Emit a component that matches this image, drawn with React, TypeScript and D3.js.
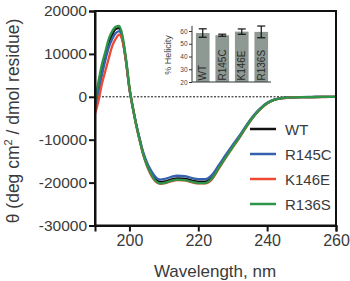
import React, { useRef, useEffect } from "react";
import * as d3 from "d3";

// ---------------------------------------------------------------------------
// DATA
// ---------------------------------------------------------------------------
const wavelengths = [
  190, 191, 192, 193, 194, 195, 196, 197, 198, 199, 200, 201, 202, 203, 204,
  205, 206, 207, 208, 209, 210, 212, 214, 216, 218, 220, 222, 224, 226, 228,
  230, 232, 234, 236, 238, 240, 242, 244, 246, 248, 250, 252, 254, 256, 258,
  260,
];

const wtValues = [
  -2000, 2000, 6000, 9500, 12500, 14500, 15800, 16000, 13500, 8500, 2000,
  -2500, -6500, -10000, -13200, -15500, -17300, -18700, -19500, -19850,
  -19800, -19300, -19000, -19100, -19500, -19800, -19800, -18700, -16300,
  -13900, -11600, -9300, -6800, -4600, -2800, -1500, -700, -350, -200, -120,
  -80, -60, -50, -40, -30, -30,
];

const r145cValues = [
  -2500, 1000, 5000, 8500, 11500, 13500, 14800, 15300, 13200, 8200, 1800,
  -2700, -6500, -9800, -12900, -15100, -16800, -18100, -19000, -19300,
  -19200, -18700, -18400, -18500, -18900, -19200, -19200, -18200, -15900,
  -13500, -11200, -9000, -6600, -4400, -2700, -1400, -650, -320, -180, -100,
  -70, -50, -40, -30, -20, -20,
];

const k146eValues = [
  -4000, -1000, 3000, 6000, 9000, 11800, 13500, 14500, 13000, 8300, 1900,
  -2700, -6800, -10300, -13500, -15900, -17800, -19200, -20000, -20300,
  -20200, -19700, -19400, -19500, -19900, -20200, -20200, -19200, -16700,
  -14200, -11800, -9500, -7000, -4700, -2900, -1550, -750, -380, -220, -130,
  -90, -70, -60, -50, -40, -40,
];

const r136sValues = [
  -1000, 3500, 7500, 10500, 13500, 15300, 16300, 16500, 14200, 9000, 2300,
  -2600, -6700, -10200, -13400, -15800, -17600, -19000, -19900, -20200,
  -20100, -19600, -19300, -19400, -19800, -20100, -20100, -19000, -16500,
  -14100, -11700, -9400, -6900, -4650, -2850, -1500, -720, -360, -200, -120,
  -80, -60, -50, -40, -30, -30,
];

const seriesNames = ["WT", "R145C", "K146E", "R136S"];
const seriesValues = [wtValues, r145cValues, k146eValues, r136sValues];
const seriesColors = ["#111111", "#3561ae", "#ee4a32", "#2e9448"];

const xTicks = [200, 220, 240, 260];
const yTicks = [20000, 10000, 0, -10000, -20000, -30000];

// inset: % helicity
const helicityMeans = [58.4, 56.7, 59.5, 59.3];
const helicityErrors = [3.3, 0.8, 2.1, 4.6];
const helicityTicks = [20, 30, 40, 50, 60];

const FONT = "'Liberation Sans', Arial, Helvetica, sans-serif";

export default function App() {
  const svgRef = useRef<SVGSVGElement | null>(null);

  useEffect(() => {
    const svg = d3.select(svgRef.current);
    svg.selectAll("*").remove();

    // -----------------------------------------------------------------------
    // SCALES
    // -----------------------------------------------------------------------
    const x = d3.scaleLinear().domain([190, 260]).range([95, 336]);
    const y = d3.scaleLinear().domain([-30000, 20000]).range([225.5, 11]);

    // zero reference line (dotted)
    svg
      .append("line")
      .attr("x1", x(190))
      .attr("x2", x(260))
      .attr("y1", y(0))
      .attr("y2", y(0))
      .attr("stroke", "#111")
      .attr("stroke-width", 1)
      .attr("stroke-dasharray", "2,1.5");

    // -----------------------------------------------------------------------
    // SPECTRA
    // -----------------------------------------------------------------------
    const line = d3
      .line<number>()
      .x((_, i) => x(wavelengths[i]))
      .y((d) => y(d))
      .curve(d3.curveMonotoneX);

    seriesValues.forEach((vals, i) => {
      svg
        .append("path")
        .datum(vals)
        .attr("fill", "none")
        .attr("stroke", seriesColors[i])
        .attr("stroke-width", 2.3)
        .attr("stroke-linejoin", "round")
        .attr("d", line);
    });

    // -----------------------------------------------------------------------
    // FRAME + AXES
    // -----------------------------------------------------------------------
    svg
      .append("rect")
      .attr("x", x(190))
      .attr("y", y(20000))
      .attr("width", x(260) - x(190))
      .attr("height", y(-30000) - y(20000))
      .attr("fill", "none")
      .attr("stroke", "#111")
      .attr("stroke-width", 2);

    const yAxis = svg
      .append("g")
      .attr("transform", `translate(${x(190)},0)`)
      .call(
        d3
          .axisLeft(y)
          .tickValues(yTicks)
          .tickSize(6)
          .tickPadding(2)
          .tickFormat((d) => String(d))
      );

    const xAxis = svg
      .append("g")
      .attr("transform", `translate(0,${y(-30000)})`)
      .call(
        d3
          .axisBottom(x)
          .tickValues(xTicks)
          .tickSize(6)
          .tickPadding(3)
          .tickFormat((d) => String(d))
      );

    [xAxis, yAxis].forEach((g) => {
      g.select(".domain").attr("stroke", "#111").attr("stroke-width", 2);
      g.selectAll(".tick line").attr("stroke", "#111").attr("stroke-width", 2);
      g.selectAll(".tick text")
        .attr("fill", "#3a3a3a")
        .style("font-family", FONT)
        .style("font-size", "15.5px");
    });
    xAxis.selectAll(".tick text").style("font-size", "16px");

    // axis titles
    svg
      .append("text")
      .attr("x", 215)
      .attr("y", 277)
      .attr("text-anchor", "middle")
      .attr("fill", "#3a3a3a")
      .style("font-family", FONT)
      .style("font-size", "17px")
      .text("Wavelength, nm");

    const yTitle = svg
      .append("text")
      .attr("transform", `translate(19,121) rotate(-90)`)
      .attr("text-anchor", "middle")
      .attr("fill", "#3a3a3a")
      .style("font-family", FONT)
      .style("font-size", "17.5px");
    yTitle.append("tspan").text("θ (deg cm");
    yTitle
      .append("tspan")
      .attr("dy", -7)
      .style("font-size", "11px")
      .text("2");
    yTitle.append("tspan").attr("dy", 7).text(" / dmol residue)");

    // -----------------------------------------------------------------------
    // LEGEND
    // -----------------------------------------------------------------------
    seriesNames.forEach((name, i) => {
      const ly = 129 + i * 25;
      svg
        .append("line")
        .attr("x1", 250)
        .attr("x2", 276)
        .attr("y1", ly)
        .attr("y2", ly)
        .attr("stroke", seriesColors[i])
        .attr("stroke-width", 2.5);
      svg
        .append("text")
        .attr("x", 285)
        .attr("y", ly + 5.5)
        .attr("fill", "#3a3a3a")
        .style("font-family", FONT)
        .style("font-size", "15px")
        .text(name);
    });

    // -----------------------------------------------------------------------
    // INSET BAR CHART
    // -----------------------------------------------------------------------
    const bx = d3
      .scaleBand<string>()
      .domain(seriesNames)
      .range([193, 271])
      .paddingInner(0.3)
      .paddingOuter(0.15);
    const by = d3.scaleLinear().domain([20, 60]).range([82, 31]);

    const inset = svg.append("g");

    inset
      .selectAll("rect.bar")
      .data(helicityMeans)
      .join("rect")
      .attr("class", "bar")
      .attr("x", (_, i) => bx(seriesNames[i]) as number)
      .attr("width", bx.bandwidth())
      .attr("y", (d) => by(d))
      .attr("height", (d) => by(20) - by(d))
      .attr("fill", "#8e9993");

    // error bars
    helicityMeans.forEach((m, i) => {
      const cx = (bx(seriesNames[i]) as number) + bx.bandwidth() / 2;
      const e = helicityErrors[i];
      const g = inset.append("g").attr("stroke", "#111").attr("stroke-width", 1.2);
      g.append("line")
        .attr("x1", cx)
        .attr("x2", cx)
        .attr("y1", by(m - e))
        .attr("y2", by(m + e));
      [m - e, m + e].forEach((v) => {
        g.append("line")
          .attr("x1", cx - 4)
          .attr("x2", cx + 4)
          .attr("y1", by(v))
          .attr("y2", by(v));
      });
    });

    // bar labels
    seriesNames.forEach((name, i) => {
      const cx = (bx(name) as number) + bx.bandwidth() / 2;
      inset
        .append("text")
        .attr("transform", `translate(${cx + 3.5},${by(20) - 1.5}) rotate(-90)`)
        .attr("fill", "#2a2a2a")
        .style("font-family", FONT)
        .style("font-size", "10px")
        .text(name);
    });

    // inset axes
    const iy = inset
      .append("g")
      .attr("transform", "translate(192,0)")
      .call(d3.axisLeft(by).tickValues(helicityTicks).tickSize(3).tickPadding(1.5).tickSizeOuter(0));
    iy.select(".domain").attr("d", `M0,${by(20)}V${by(64)}`).attr("stroke", "#333");
    iy.selectAll(".tick line").attr("stroke", "#333");
    iy.selectAll(".tick text")
      .attr("fill", "#444")
      .style("font-family", FONT)
      .style("font-size", "6.5px");

    inset
      .append("line")
      .attr("x1", 192)
      .attr("x2", 271)
      .attr("y1", by(20))
      .attr("y2", by(20))
      .attr("stroke", "#333")
      .attr("stroke-width", 1);

    inset
      .append("text")
      .attr("transform", "translate(171,55) rotate(-90)")
      .attr("text-anchor", "middle")
      .attr("fill", "#444")
      .style("font-family", FONT)
      .style("font-size", "9px")
      .text("% Helicity");
  }, []);

  return (
    <svg
      ref={svgRef}
      width={350}
      height={281}
      style={{ position: "absolute", left: 0, top: 0, background: "#fff" }}
    />
  );
}
